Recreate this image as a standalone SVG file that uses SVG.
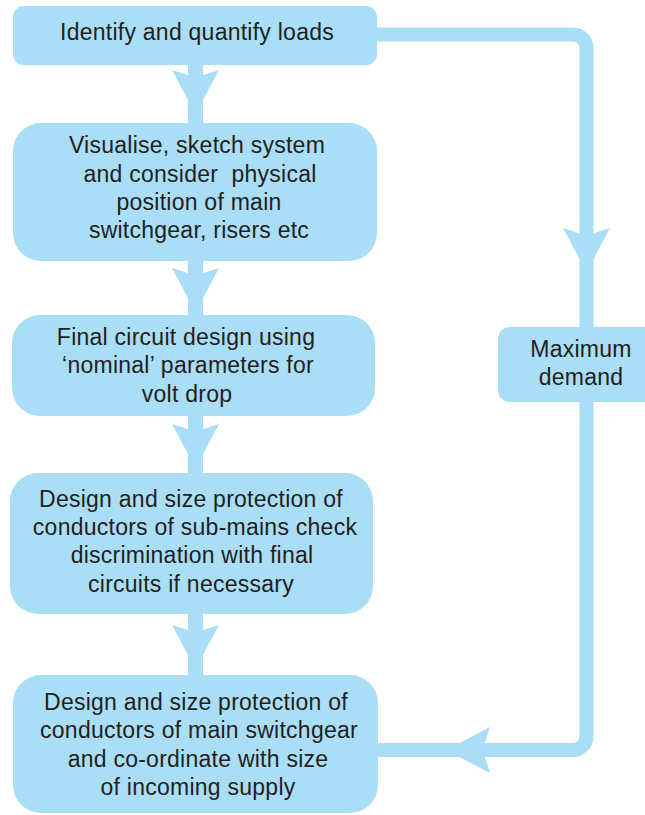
<svg xmlns="http://www.w3.org/2000/svg" width="645" height="815" viewBox="0 0 645 815">
<style>
.box{fill:#AADDF6;}
.ln{fill:none;stroke:#AADDF6;}
.ah{fill:#AADDF6;}
text{font-family:"Liberation Sans",Arial,sans-serif;font-size:23px;letter-spacing:0.25px;fill:#231F20;text-anchor:middle;}
.pre{white-space:pre;}
</style>
<rect width="645" height="815" fill="#FFFFFF"/>
<g id="connectors">
<line class="ln" x1="195.5" y1="60" x2="195.5" y2="128" stroke-width="15"/>
<polygon class="ah" points="172,70 195.5,77.5 219,70 195.5,114"/>
<line class="ln" x1="195.5" y1="255" x2="195.5" y2="320" stroke-width="15"/>
<polygon class="ah" points="172,268 195.5,275.5 219,268 195.5,312"/>
<line class="ln" x1="195.5" y1="410" x2="195.5" y2="478" stroke-width="15"/>
<polygon class="ah" points="172,424 195.5,431.5 219,424 195.5,468"/>
<line class="ln" x1="195.5" y1="608" x2="195.5" y2="680" stroke-width="15"/>
<polygon class="ah" points="172,625 195.5,632.5 219,625 195.5,669"/>
<path class="ln" stroke-width="14" d="M 370 34.5 H 573 A 13.5 13.5 0 0 1 586.5 48 V 736.5 A 13.5 13.5 0 0 1 573 750 H 370"/>
<polygon class="ah" points="563,228 586.5,235.5 610,228 586.5,272"/>
<polygon class="ah" points="490,727 482.5,750 490,773 446,750"/>
</g>
<g id="n1">
<rect class="box" x="13" y="6" width="364" height="59" rx="11"/>
<text x="197" y="40">Identify and quantify loads</text>
</g>
<g id="n2">
<rect class="box" x="13" y="123" width="364" height="138" rx="28"/>
<text x="197" y="153">Visualise, sketch system</text>
<text class="pre" x="200" y="182">and consider  physical</text>
<text x="199" y="210">position of main</text>
<text x="199" y="238">switchgear, risers etc</text>
</g>
<g id="n3">
<rect class="box" x="12" y="315" width="363" height="101" rx="28"/>
<text x="186" y="345">Final circuit design using</text>
<text x="188" y="373">‘nominal’ parameters for</text>
<text x="187" y="402">volt drop</text>
</g>
<g id="n4">
<rect class="box" x="10" y="473" width="363" height="141" rx="28"/>
<text x="191" y="507">Design and size protection of</text>
<text x="195" y="535">conductors of sub-mains check</text>
<text x="192" y="563">discrimination with final</text>
<text x="191" y="592">circuits if necessary</text>
</g>
<g id="n5">
<rect class="box" x="13" y="675" width="365" height="138" rx="28"/>
<text x="196" y="710">Design and size protection of</text>
<text x="199" y="738">conductors of main switchgear</text>
<text x="198" y="767">and co-ordinate with size</text>
<text x="198" y="795">of incoming supply</text>
</g>
<g id="n6">
<rect class="box" x="498" y="327" width="170" height="75" rx="12"/>
<text x="581" y="357">Maximum</text>
<text x="581" y="385">demand</text>
</g>
</svg>
